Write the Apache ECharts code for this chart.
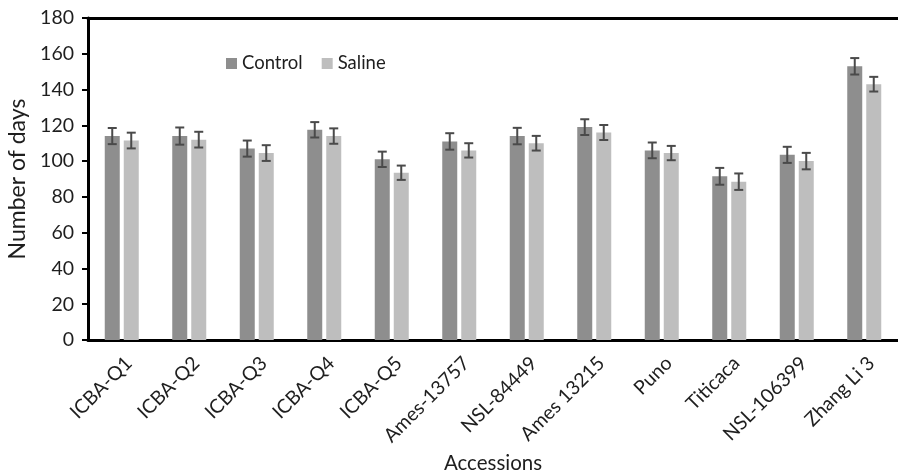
<!DOCTYPE html>
<html>
<head>
<meta charset="utf-8">
<script src="https://cdn.jsdelivr.net/npm/echarts@6/dist/echarts.min.js"></script>
<style>html,body{margin:0;padding:0;background:#fff;}#c{width:898px;height:475px;}</style>
</head>
<body>
<div id="c"></div>
<script>
const categories = ['ICBA-Q1','ICBA-Q2','ICBA-Q3','ICBA-Q4','ICBA-Q5','Ames-13757','NSL-84449','Ames 13215','Puno','Titicaca','NSL-106399','Zhang Li 3'];
const control = [114, 114, 107, 117.5, 101, 111, 114, 119, 106, 91.5, 103.5, 153];
const saline = [111.5, 112, 104.5, 114, 93.5, 106, 110, 116, 104.5, 88.5, 100, 143];
const controlErr = [4.5, 4.8, 4.5, 4.3, 4.3, 4.6, 4.6, 4.4, 4.4, 4.7, 4.5, 4.6];
const salineErr = [4.4, 4.4, 4.4, 4.3, 4.0, 4.0, 4.1, 4.2, 4.0, 4.6, 4.6, 4.1];
const yTicks = {min: 0, max: 180, interval: 20};

const BAR_W = 15, GAP = 4;
const font = 'Lato, "Open Sans", sans-serif';
const txt = '#1e1e1e';

function errSeries(name, vals, errs, sign) {
  return {
    type: 'custom',
    name: name + ' err',
    z: 10,
    data: vals.map((v, i) => [i, v, errs[i]]),
    renderItem: function (params, api) {
      const i = api.value(0), v = api.value(1), e = api.value(2);
      const off = sign * (BAR_W + GAP) / 2;
      const hi = api.coord([i, v + e]);
      const lo = api.coord([i, v - e]);
      const x = hi[0] + off;
      const cap = 4.5;
      const style = {stroke: '#4a4a4a', lineWidth: 2, fill: 'none'};
      return {
        type: 'group',
        children: [
          {type: 'line', shape: {x1: x, y1: hi[1], x2: x, y2: lo[1]}, style: style},
          {type: 'line', shape: {x1: x - cap, y1: hi[1], x2: x + cap, y2: hi[1]}, style: style},
          {type: 'line', shape: {x1: x - cap, y1: lo[1], x2: x + cap, y2: lo[1]}, style: style}
        ]
      };
    }
  };
}

const chart = echarts.init(document.getElementById('c'), null, {renderer: 'canvas'});
chart.setOption({
  animation: false,
  textStyle: {fontFamily: font, color: txt},
  legend: {
    data: ['Control', 'Saline'],
    left: 221, top: 49,
    itemWidth: 11, itemHeight: 11, itemGap: 19,
    icon: 'rect',
    textStyle: {fontSize: 18.5, color: txt, fontFamily: font}
  },
  grid: {left: 88, right: 0, top: 18, bottom: 135, containLabel: false, outerBoundsMode: 'none'},
  xAxis: [{
    type: 'category',
    data: categories,
    name: 'Accessions',
    nameLocation: 'middle',
    nameGap: 113,
    nameTextStyle: {fontSize: 20.5, color: txt, fontFamily: font},
    axisLine: {lineStyle: {color: '#000', width: 3}},
    axisTick: {show: false},
    axisLabel: {rotate: 45, fontSize: 19.5, color: txt, margin: 13, interval: 0, verticalAlign: 'top', fontFamily: font}
  }, {
    type: 'category',
    data: categories,
    position: 'top',
    axisLine: {show: true, onZero: false, lineStyle: {color: '#000', width: 3}},
    axisTick: {show: false},
    axisLabel: {show: false}
  }],
  yAxis: {
    type: 'value',
    min: yTicks.min, max: yTicks.max, interval: yTicks.interval,
    name: 'Number of days',
    nameLocation: 'middle',
    nameGap: 52,
    nameTextStyle: {fontSize: 23, color: txt, fontFamily: font},
    axisLine: {show: true, lineStyle: {color: '#000', width: 3}},
    axisTick: {show: true, length: 6, lineStyle: {color: '#000', width: 2}},
    axisLabel: {fontSize: 19.5, color: txt, margin: 14, fontFamily: font},
    splitLine: {show: false}
  },
  series: [
    {name: 'Control', type: 'bar', data: control, barWidth: BAR_W, barGap: (GAP / BAR_W * 100) + '%', itemStyle: {color: '#8e8e8e'}},
    {name: 'Saline', type: 'bar', data: saline, barWidth: BAR_W, itemStyle: {color: '#bebebe'}},
    errSeries('Control', control, controlErr, -1),
    errSeries('Saline', saline, salineErr, 1)
  ]
});
</script>
</body>
</html>
